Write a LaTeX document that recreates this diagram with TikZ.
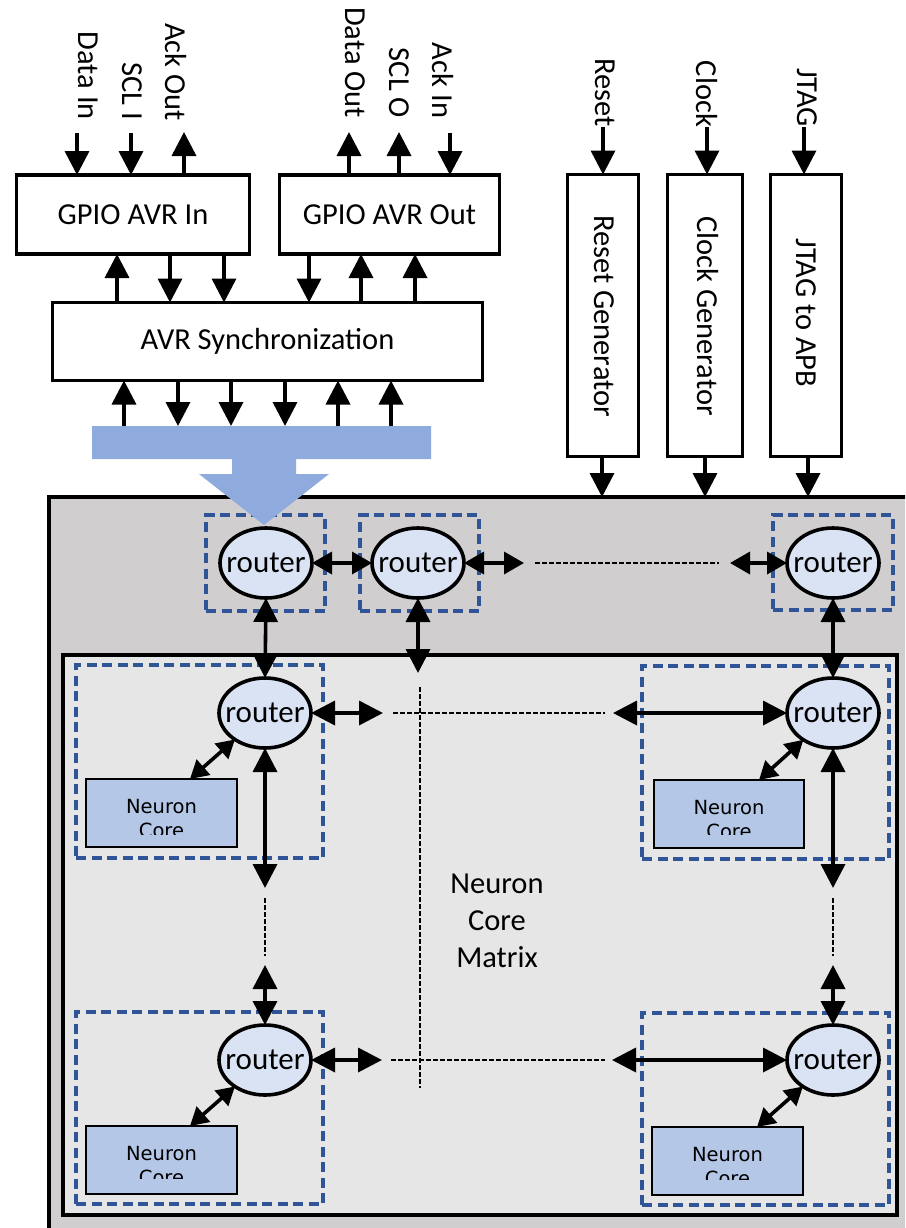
\documentclass[tikz,border=0pt]{standalone}
\usepackage{fontspec}
\setmainfont{Carlito}
\newfontfamily\dejavu{DejaVu Sans}
\usetikzlibrary{arrows.meta,shapes.geometric}
\definecolor{busblue}{RGB}{143,170,220}
\definecolor{dashblue}{RGB}{47,85,151}
\definecolor{routerfill}{RGB}{218,227,243}
\definecolor{corefill}{RGB}{180,199,231}
\definecolor{outergray}{RGB}{208,206,206}
\definecolor{innergray}{RGB}{231,230,230}
\begin{document}
\begin{tikzpicture}[x=1pt,y=-1pt,
 every node/.style={inner sep=0pt, outer sep=0pt},
 f30/.style={font=\fontsize{30.5}{37}\selectfont},
 blk/.style={draw, line width=3.2pt, fill=white, f30},
 lbl/.style={f30, rotate=-90, anchor=east},
 arr/.style={line width=3.6pt, -{Triangle[length=24pt,width=24pt]}},
 darr/.style={line width=3.6pt, {Triangle[length=24pt,width=24pt]}-{Triangle[length=24pt,width=24pt]}},
 sarr/.style={line width=3.6pt, {Triangle[length=20pt,width=22pt]}-{Triangle[length=20pt,width=22pt]}},
 dgarr/.style={line width=3.6pt, {Triangle[length=18pt,width=20pt]}-{Triangle[length=18pt,width=20pt]}},
 router/.style={ellipse, draw, line width=3.6pt, fill=routerfill, minimum width=92pt, minimum height=70pt},
 rtxt/.style={font=\fontsize{31}{37}\selectfont},
 dbox/.style={draw=dashblue, line width=3.2pt, dash pattern=on 10pt off 5.5pt},
 core/.style={draw, line width=2pt, fill=corefill},
 coretxt/.style={font=\dejavu\fontsize{19.5}{24}\selectfont, anchor=base},
 thind/.style={line width=1.4pt, dash pattern=on 4.5pt off 2.5pt},
]
\clip (0,0) rectangle (905,1228);
\fill[white] (0,0) rectangle (905,1228);

% ---------- top blocks ----------
\node[blk, minimum width=233pt, minimum height=79pt] (gin) at (133,214.5) {GPIO AVR In};
\node[blk, minimum width=220pt, minimum height=79pt] (gout) at (389.5,214.5) {GPIO AVR Out};
\node[blk, minimum width=430pt, minimum height=78pt] (sync) at (267.5,341.5) {AVR Synchronization};
\node[blk, minimum width=71pt, minimum height=282pt] (rg) at (603,315.5) {};
\node[blk, minimum width=75pt, minimum height=282pt] (cg) at (705,315.5) {};
\node[blk, minimum width=71pt, minimum height=282pt] (jg) at (806,315.5) {};
\node[f30, rotate=-90] (rgt) at (604,316) {Reset Generator};
\node[f30, rotate=-90] (cgt) at (708,316) {Clock Generator};
\node[f30, rotate=-90] (jgt) at (806,313) {JTAG to APB};

% ---------- labels ----------
\node[lbl] (lDI) at (88,120) {Data In};
\node[lbl] (lSI) at (132,120) {SCL I};
\node[lbl] (lAO) at (176,121) {Ack Out};
\node[lbl] (lDO) at (355,118) {Data Out};
\node[lbl] (lSO) at (399,118) {SCL O};
\node[lbl] (lAI) at (443,118) {Ack In};
\node[lbl] (lR) at (605,127) {Reset};
\node[lbl] (lC) at (707,127) {Clock};
\node[lbl] (lJ) at (807,127) {JTAG};

% ---------- top arrows ----------
\coordinate (pDI) at (77,133);
\coordinate (pSI) at (131,133);
\coordinate (pAO) at (184,132);
\coordinate (pDO) at (349,132);
\coordinate (pSO) at (399,132);
\coordinate (pAI) at (450,133);
\coordinate (pR) at (603,127);
\coordinate (pC) at (707,127);
\coordinate (pJ) at (804,127);
\draw[arr] (pDI) -- (gin.north -| pDI);
\draw[arr] (pSI) -- (gin.north -| pSI);
\draw[arr] (gin.north -| pAO) -- (pAO);
\draw[arr] (gout.north -| pDO) -- (pDO);
\draw[arr] (gout.north -| pSO) -- (pSO);
\draw[arr] (pAI) -- (gout.north -| pAI);
\draw[arr] (pR) -- (rg.north -| pR);
\draw[arr] (pC) -- (cg.north -| pC);
\draw[arr] (pJ) -- (jg.north -| pJ);

% GPIO <-> sync
\draw[arr] (sync.north -| 117,0) -- (gin.south -| 117,0);
\draw[arr] (gin.south -| 170,0) -- (sync.north -| 170,0);
\draw[arr] (gin.south -| 224,0) -- (sync.north -| 224,0);
\draw[arr] (gout.south -| 309,0) -- (sync.north -| 309,0);
\draw[arr] (sync.north -| 361,0) -- (gout.south -| 361,0);
\draw[arr] (sync.north -| 415,0) -- (gout.south -| 415,0);

% ---------- outer and inner boxes ----------
\node[draw, line width=4pt, fill=outergray, minimum width=871pt, minimum height=743pt] (outer) at (484.5,868.5) {};
\node[draw, line width=3.6pt, fill=innergray, minimum width=834pt, minimum height=560pt] (inner) at (480,935) {};
\node[f30, align=center] (ncm) at (497,921) {Neuron\\Core\\Matrix};

% generator outputs
\draw[arr] (rg.south -| 602,0) -- (outer.north -| 602,0);
\draw[arr] (cg.south -| 705,0) -- (outer.north -| 705,0);
\draw[arr] (jg.south -| 808,0) -- (outer.north -| 808,0);

% ---------- dashed boxes ----------
\node[dbox, minimum width=119pt, minimum height=96pt] (d1) at (265.5,563) {};
\node[dbox, minimum width=119pt, minimum height=96pt] (d2) at (419.5,563) {};
\node[dbox, minimum width=120pt, minimum height=95pt] (d3) at (833,562.5) {};
\node[dbox, minimum width=247pt, minimum height=193pt] (dm1) at (199.5,761.5) {};
\node[dbox, minimum width=247pt, minimum height=193pt] (dm2) at (765.5,762.5) {};
\node[dbox, minimum width=247pt, minimum height=192pt] (dm3) at (199.5,1108) {};
\node[dbox, minimum width=247pt, minimum height=192pt] (dm4) at (765.5,1109) {};

% ---------- bus ----------
\coordinate (bus) at (0,426);
\fill[busblue] (92,426) -- (431,426) -- (431,459) -- (296,459) -- (296,474) -- (329,474)
  -- (264,525) -- (199,474) -- (232,474) -- (232,459) -- (92,459) -- cycle;
\draw[arr] (bus -| 124,0) -- (sync.south -| 124,0);
\draw[arr] (sync.south -| 178,0) -- (bus -| 178,0);
\draw[arr] (sync.south -| 231,0) -- (bus -| 231,0);
\draw[arr] (sync.south -| 285,0) -- (bus -| 285,0);
\draw[arr] (bus -| 338,0) -- (sync.south -| 338,0);
\draw[arr] (bus -| 391,0) -- (sync.south -| 391,0);

% ---------- neuron cores ----------
\node[core, minimum width=151pt, minimum height=68pt] (c1) at (161.5,813) {};
\node[core, minimum width=150pt, minimum height=68pt] (c2) at (729,814) {};
\node[core, minimum width=151pt, minimum height=68pt] (c3) at (161.5,1160) {};
\node[core, minimum width=151pt, minimum height=68pt] (c4) at (727.5,1161) {};
\begin{scope}
\clip (80,770) rectangle (245,834);
\node[coretxt] (c1a) at (161.5,813) {Neuron};
\node[coretxt] (c1b) at (161.5,837) {Core};
\end{scope}
\begin{scope}
\clip (645,770) rectangle (812,834);
\node[coretxt] (c2a) at (729,814) {Neuron};
\node[coretxt] (c2b) at (729,838) {Core};
\end{scope}
\begin{scope}
\clip (80,1115) rectangle (245,1178);
\node[coretxt] (c3a) at (161.5,1160) {Neuron};
\node[coretxt] (c3b) at (161.5,1184) {Core};
\end{scope}
\begin{scope}
\clip (645,1115) rectangle (812,1179);
\node[coretxt] (c4a) at (727.5,1161) {Neuron};
\node[coretxt] (c4b) at (727.5,1185) {Core};
\end{scope}

% ---------- routers ----------
\node[router] (r1) at (266,563) {};
\node[router] (r2) at (418,563) {};
\node[router] (r3) at (833,563) {};
\node[router] (m1) at (265,713) {};
\node[router] (m2) at (833,713) {};
\node[router] (m3) at (265,1060) {};
\node[router] (m4) at (833,1060) {};
\node[rtxt] (r1t) at (r1) {router};
\node[rtxt] (r2t) at (r2) {router};
\node[rtxt] (r3t) at (r3) {router};
\node[rtxt] (m1t) at (m1) {router};
\node[rtxt] (m2t) at (m2) {router};
\node[rtxt] (m3t) at (m3) {router};
\node[rtxt] (m4t) at (m4) {router};

% ---------- top row links ----------
\coordinate (t2e) at (524,563);
\coordinate (t3w) at (730,563);
\draw[sarr] (r1.east) -- (r2.west);
\draw[sarr] (r2.east) -- (t2e);
\draw[thind] (535,563) -- (719,563);
\draw[sarr] (t3w) -- (r3.west);

% vertical links top row to matrix
\coordinate (v2b) at (418,673);
\draw[darr] (r1.south) -- (m1.north);
\draw[darr] (r2.south) -- (v2b);
\draw[darr] (r3.south) -- (m2.north);

% matrix horizontal links
\coordinate (h1e) at (383,713);
\coordinate (h2w) at (613,713);
\coordinate (h3e) at (382,1060);
\coordinate (h4w) at (612,1060);
\draw[darr] (m1.east) -- (h1e);
\draw[thind] (393,713) -- (605,713);
\draw[darr] (h2w) -- (m2.west);
\draw[darr] (m3.east) -- (h3e);
\draw[thind] (391,1060) -- (605,1060);
\draw[darr] (h4w) -- (m4.west);
\draw[thind] (420,687) -- (420,1088);

% matrix vertical links
\coordinate (v1s) at (265,888);
\coordinate (v3n) at (265,965);
\coordinate (v2s) at (833,888);
\coordinate (v4n) at (833,965);
\draw[darr] (m1.south) -- (v1s);
\draw[thind] (265,898) -- (265,956);
\draw[darr] (v3n) -- (m3.north);
\draw[darr] (m2.south) -- (v2s);
\draw[thind] (833,898) -- (833,956);
\draw[darr] (v4n) -- (m4.north);

% router <-> core
\draw[dgarr] (m1) -- (c1.north -| 190,0);
\draw[dgarr] (m2) -- (c2.north -| 759,0);
\draw[dgarr] (m3) -- (c3.north -| 190,0);
\draw[dgarr] (m4) -- (c4.north -| 757,0);
\end{tikzpicture}
\end{document}
